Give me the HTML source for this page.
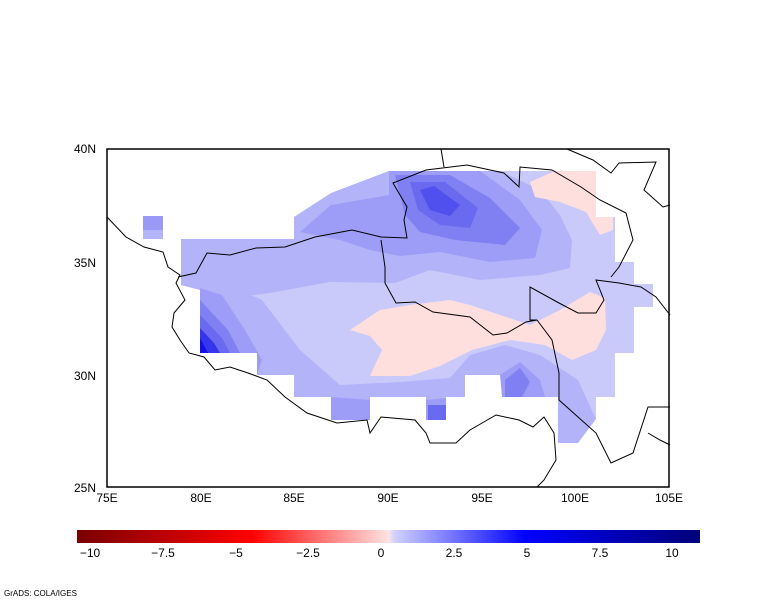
<!DOCTYPE html>
<html><head><meta charset="utf-8"><style>
html,body{margin:0;padding:0;background:#fff;}
body{width:777px;height:600px;position:relative;overflow:hidden;font-family:"Liberation Sans",sans-serif;}
</style></head><body>
<svg width="777" height="600" xmlns="http://www.w3.org/2000/svg" style="position:absolute;left:0;top:0">
<g stroke="none">
<rect x="143" y="216" width="20" height="23" fill="#9a9af6"/>
<rect x="143" y="230" width="20" height="9" fill="#b4b4fa"/>
<polygon fill="#cacafa" points="389,171 559,171 559,193 596,193 596,217 615,217 615,262 634,262 634,284 653,284 653,307 634,307 634,353 615,353 615,397 596,397 596,419 578,419 578,443 558,443 558,397 502,397 502,375 465,375 465,397 446,397 446,420 426,420 426,397 370,397 370,420 331,420 331,397 294,397 294,375 257,375 257,353 200,353 200,285 181,285 181,239 294,239 294,217 331,217 331,193 389,193"/>
<polygon fill="#b3b3fa" points="294,217 331,193 389,171 500,171 540,190 560,215 572,240 570,268 540,275 480,280 430,270 395,283 330,282 270,293 237,297 200,290 181,285 181,239 294,239"/>
<polygon fill="#b3b3fa" points="200,285 240,290 262,300 300,350 340,385 400,382 450,378 470,355 505,345 540,355 578,380 596,419 578,443 558,443 558,397 502,397 502,375 465,375 465,397 446,397 446,420 426,420 426,397 370,397 370,420 331,420 331,397 294,397 294,375 257,375 257,353 200,353"/>
<polygon fill="#9d9df7" points="389,171 480,171 520,200 542,230 535,258 490,262 440,252 400,256 370,250 340,240 300,232 331,205 389,195"/>
<polygon fill="#9d9df7" points="200,288 222,295 245,330 262,360 257,375 257,353 200,353"/>
<polygon fill="#9d9df7" points="331,397 370,400 370,420 331,420"/>
<polygon fill="#9d9df7" points="500,375 520,362 540,380 545,397 502,397"/>
<polygon fill="#9d9df7" points="426,400 446,398 446,420 426,420"/>
<polygon fill="#8080f2" points="395,175 450,175 490,198 520,228 505,245 455,240 420,232 405,215"/>
<polygon fill="#8080f2" points="200,300 228,330 240,353 200,353"/>
<polygon fill="#8080f2" points="505,380 520,368 530,382 522,397 505,397"/>
<polygon fill="#6a6af0" points="410,182 445,182 478,208 470,228 440,225 418,210"/>
<polygon fill="#6a6af0" points="200,315 222,338 230,353 200,353"/>
<polygon fill="#6a6af0" points="428,405 446,405 446,420 428,420"/>
<polygon fill="#5050ee" points="420,190 434,186 460,205 450,216 430,210"/>
<polygon fill="#3535ec" points="200,328 214,343 220,353 200,353"/>
<polygon fill="#1010e6" points="200,338 208,353 200,353"/>
<polygon fill="#ffdede" points="350,330 380,310 410,305 450,300 470,305 500,315 530,325 560,310 590,292 605,298 606,330 596,350 572,360 545,345 510,340 472,350 440,366 410,376 370,376 382,350 370,336"/>
<polygon fill="#ffdede" points="530,182 555,171 596,171 596,193 596,217 613,217 613,230 600,235 586,212 560,202 535,197"/>
</g>
<g fill="none" stroke="#000" stroke-width="1">
<polyline points="107,217 126,237 144,247 163,252 168,267 180,275 176,283 185,300 174,313 172,327 180,340 189,353 204,357 215,370 230,367 248,373 267,380 285,397 307,413 337,423 367,420 370,433 381,417 415,420 426,433 430,443 456,443 470,430 496,415 519,420 533,427 544,417 554,433 556,460 544,480 537,487"/>
<polyline points="178,277 196,273 207,253 230,255 256,248 285,247 315,237 352,230 381,237 407,238 404,220 407,207 393,183 426,170 467,165 504,173 519,187 520,167 552,170 581,187 600,200 626,213 633,240 619,267 611,277"/>
<polyline points="381,240 385,267 385,283 396,303 415,302 433,312 470,317 493,335 507,333 526,322 537,320 530,320 530,287 559,303 578,313 596,313 604,300 596,280 619,283 641,287 656,297 670,315"/>
<polyline points="537,320 552,340 559,373 559,400 578,417 596,433 611,463 633,453 648,407 670,407"/>
<polyline points="441,149 444,167"/>
<polyline points="567,149 593,160 611,173 619,163 656,162 644,190 663,207 670,205"/>
<polyline points="648,433 660,440 670,445"/>
</g>
<rect x="107" y="149" width="562" height="338" fill="none" stroke="#000" stroke-width="1.5"/>
<g font-size="12" fill="#000" font-family="Liberation Sans, sans-serif">
<text x="96" y="153" text-anchor="end">40N</text>
<text x="96" y="267" text-anchor="end">35N</text>
<text x="96" y="380" text-anchor="end">30N</text>
<text x="96" y="492" text-anchor="end">25N</text>
<text x="107" y="502" text-anchor="middle">75E</text>
<text x="201" y="502" text-anchor="middle">80E</text>
<text x="294" y="502" text-anchor="middle">85E</text>
<text x="388" y="502" text-anchor="middle">90E</text>
<text x="482" y="502" text-anchor="middle">95E</text>
<text x="575" y="502" text-anchor="middle">100E</text>
<text x="669" y="502" text-anchor="middle">105E</text>
</g>
<defs><linearGradient id="cb" x1="0" x2="1">
<stop offset="0" stop-color="#7a0000"/><stop offset="0.28" stop-color="#ff0000"/><stop offset="0.49" stop-color="#ffd8d8"/><stop offset="0.5" stop-color="#ffe4e4"/><stop offset="0.51" stop-color="#d0d0ff"/><stop offset="0.72" stop-color="#0000ff"/><stop offset="1" stop-color="#000078"/>
</linearGradient></defs>
<rect x="77" y="530" width="623" height="13" fill="url(#cb)"/>
<g font-size="12" fill="#000" text-anchor="middle">
<text x="90" y="557">−10</text><text x="163" y="557">−7.5</text><text x="236" y="557">−5</text><text x="308" y="557">−2.5</text><text x="381" y="557">0</text><text x="454" y="557">2.5</text><text x="527" y="557">5</text><text x="600" y="557">7.5</text><text x="672" y="557">10</text>
</g>
<text x="4" y="596" font-size="8" fill="#000">GrADS: COLA/IGES</text>
</svg>
</body></html>
